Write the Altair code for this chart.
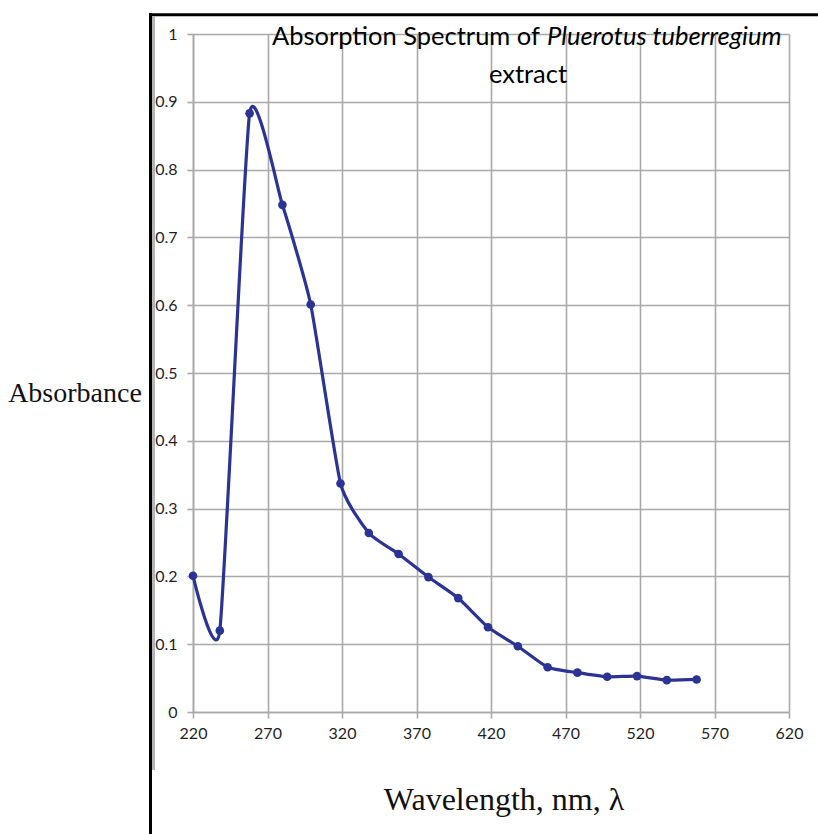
import altair as alt
import pandas as pd

# ---- data ----
wavelength = [220, 238, 258, 280, 299, 319, 338, 358, 378, 398, 418, 438, 458, 478, 498, 518, 538, 558]
absorbance = [0.201, 0.120, 0.883, 0.748, 0.601, 0.337, 0.264, 0.233, 0.199, 0.168, 0.125, 0.097,
              0.066, 0.058, 0.052, 0.053, 0.047, 0.048]
x_ticks = [220, 270, 320, 370, 420, 470, 520, 570, 620]
y_ticks = [0, 0.1, 0.2, 0.3, 0.4, 0.5, 0.6, 0.7, 0.8, 0.9, 1.0]

title_plain = "Absorption Spectrum of"
title_italic = "Pluerotus tuberregium"
title_line2 = "extract"
y_title = "Absorbance"
x_title = "Wavelength, nm, λ"

df = pd.DataFrame({"wl": wavelength, "abs": absorbance})
one = pd.DataFrame({"k": [0]})

W, H = 596, 678
BLUE = "#2b3494"
GRID = "#a9a9a9"
LBL = "#1f1f1f"

common_axis = dict(grid=True, gridColor=GRID, gridWidth=1.6, gridOpacity=1,
                   domainColor=GRID, domainWidth=1.6, tickColor=GRID, tickWidth=1.6, tickSize=6,
                   labelFont="Lato", labelFontSize=16, labelColor=LBL, labelFlush=False,
                   title=None)

xenc = alt.X("wl:Q", scale=alt.Scale(domain=[220, 620], nice=False, zero=False),
             axis=alt.Axis(values=x_ticks, labelPadding=7, **common_axis))
yenc = alt.Y("abs:Q", scale=alt.Scale(domain=[0, 1], nice=False),
             axis=alt.Axis(values=y_ticks, format="~g", labelPadding=10, **common_axis))

line = alt.Chart(df).mark_line(interpolate="cardinal", tension=0.5, color=BLUE, strokeWidth=3.2).encode(x=xenc, y=yenc)
pts = alt.Chart(df).mark_circle(size=75, color=BLUE, opacity=1).encode(x="wl:Q", y="abs:Q")

def txt(text, x, y, size, font, align="center", style="normal", color="#111111"):
    return alt.Chart(one).mark_text(text=text, font=font, fontSize=size, align=align,
                                    baseline="alphabetic", fontStyle=style, color=color).encode(
        x=alt.value(x), y=alt.value(y))

t1 = txt(title_plain, 347, 11, 25.5, "Lato", align="right", color="#000000")
t2 = txt(title_italic, 354, 11, 25.5, "Lato", align="left", style="italic", color="#000000")
t3 = txt(title_line2, 335, 49, 25.5, "Lato", color="#000000")
ty = txt(y_title, -118, 368, 28, "Liberation Serif")
tx = txt(x_title, 311, 776, 32, "Liberation Serif")

border_top = alt.Chart(one).mark_rule(color="black", strokeWidth=3).encode(
    x=alt.value(-44), x2=alt.value(630), y=alt.value(-19.3))
border_left = alt.Chart(one).mark_rule(color="black", strokeWidth=3).encode(
    x=alt.value(-42.5), y=alt.value(-20.8), y2=alt.value(805))
strip = alt.Chart(one).mark_rule(color="#b5b5b5", strokeWidth=3).encode(
    x=alt.value(-39.5), y=alt.value(-18), y2=alt.value(736))

chart = alt.layer(line, pts, t1, t2, t3, ty, tx, border_top, border_left, strip).properties(
    width=W, height=H,
    padding={"left": 193, "top": 34, "right": 29, "bottom": 122},
    autosize="none",
    background="white",
).configure_view(stroke=None)

chart.save("out.html", embed_options={"renderer": "svg", "actions": False})
